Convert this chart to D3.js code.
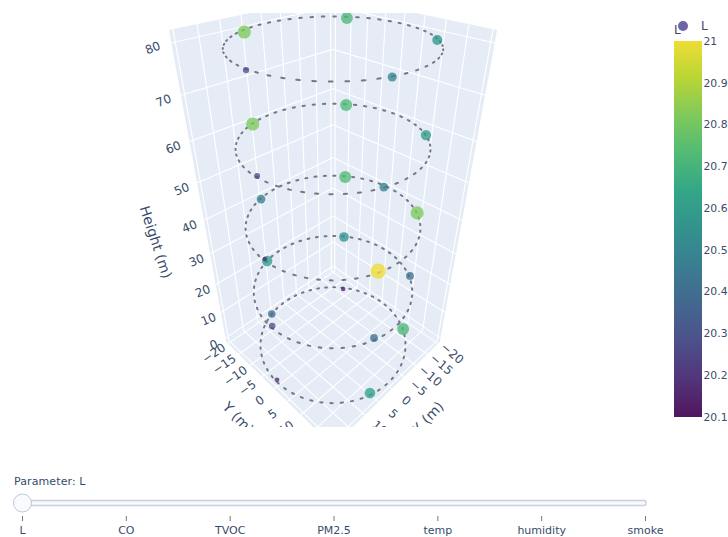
<!DOCTYPE html><html><head><meta charset="utf-8"><script src="https://cdn.jsdelivr.net/npm/d3@7"></script>
<style>html,body{margin:0;padding:0;background:#fff}svg{display:block}text{font-family:"DejaVu Sans",sans-serif;fill:#384c6a}</style></head><body>
<svg id="c" width="728" height="537"></svg>
<script>
// ---- data ----
const sensorX=[7.0,-15.1,-15.0,6.2,20.0, 6.5,-15.6,-15.9,6.0,19.4, -15.9,-15.7,6.2,5.7,19.4, -15.8,-16.2,5.5,19.3,6.0, -15.6,-16.1,5.6,19.3,6.3];
const sensorY=[-17.4,-10.9,12.3,18.9,0.7, -18.4,-11.2,11.7,18.6,-0.1, 11.8,-11.2,-18.5,18.4,0.4, -11.4,11.7,18.4,-0.3,-19.8, -11.2,11.6,18.4,-0.6,-18.7];
const sensorZ=[80,80,80,80,80, 60,60,60,60,60, 40,40,40,40,40, 20,20,20,20,20, 0,0,0,0,0];
const paramL=[20.82,20.72,20.57,20.50,20.28, 20.82,20.73,20.60,20.48,20.25, 20.82,20.74,20.47,21.0,20.60, 20.55,20.40,20.40,20.30,20.15, 20.13,20.72,20.62,20.17,20.38];
const ringHeights=[0,20,40,60,80];
const ringRadius=19.7;
const horizontalTicks=[-20,-15,-10,-5,0,5,10,15,20];
const heightTicks=[0,10,20,30,40,50,60,70,80];
const colorbarTicks=[20.1,20.2,20.3,20.4,20.5,20.6,20.7,20.8,20.9,21];
const sliderSteps=['L','CO','TVOC','PM2.5','temp','humidity','smoke'];
const axisEdge=20.8, floorZ=-1.6, topZ=82.3;

// ---- camera ----
const sinP=.559,cosP=.829,f=486.4,cx=333,cy=200.6,eyeD=89.4,eyeH=105.7;
function project(x,y,z){const u=(x+y)/Math.SQRT2,v=(y-x)/Math.SQRT2,t=eyeH-z,a=eyeD-u,dep=a*cosP+t*sinP,yc=a*sinP-t*cosP;return [cx+f*v/dep,cy-f*yc/dep];}

const svg=d3.select('#c');
const muted=t=>d3.interpolateRgb(d3.interpolateViridis(t),'#999')(.14);
const color=d3.scaleSequential(muted).domain([20.1,21]);
const radius=d3.scaleLinear().domain([20.13,21]).range([2.2,7.7]);
const line=d3.line();
const R=axisEdge;
const poly=p=>line(p.map(q=>project(...q)))+'Z';

svg.append('defs').append('clipPath').attr('id','scene').append('rect').attr('x',0).attr('y',13).attr('width',665).attr('height',414);
const scene=svg.append('g').attr('clip-path','url(#scene)');

const walls=[[[-R,-R,floorZ],[R,-R,floorZ],[R,R,floorZ],[-R,R,floorZ]],[[-R,-R,floorZ],[R,-R,floorZ],[R,-R,topZ],[-R,-R,topZ]],[[-R,-R,floorZ],[-R,R,floorZ],[-R,R,topZ],[-R,-R,topZ]]];
scene.selectAll('path.wall').data(walls).join('path').attr('class','wall').attr('d',poly).attr('fill','#E5ECF6');

const grid=[];
horizontalTicks.forEach(t=>{
  grid.push([[t,-R,floorZ],[t,R,floorZ]],[[-R,t,floorZ],[R,t,floorZ]]);
  grid.push([[t,-R,floorZ],[t,-R,topZ]],[[-R,t,floorZ],[-R,t,topZ]]);
});
heightTicks.forEach(z=>{grid.push([[-R,-R,z],[R,-R,z]],[[-R,-R,z],[-R,R,z]]);});
scene.selectAll('path.grid').data(grid).join('path').attr('class','grid').attr('d',s=>line(s.map(q=>project(...q)))).attr('stroke','#fff').attr('stroke-width',1.1).attr('fill','none');

// dotted rings: dashes laid in world space so they stretch with perspective
const dashCount=50;
ringHeights.forEach(z=>{
  const dashes=d3.range(dashCount).map(i=>{
    const a0=i/dashCount*2*Math.PI,a1=(i+.22)/dashCount*2*Math.PI;
    return [project(ringRadius*Math.cos(a0),ringRadius*Math.sin(a0),z),project(ringRadius*Math.cos(a1),ringRadius*Math.sin(a1),z)];
  });
  scene.append('path').attr('d',dashes.map(d=>line(d)).join('')).attr('stroke','#757789').attr('stroke-width',2).attr('stroke-linecap','round').attr('fill','none');
});

const order=d3.range(sensorX.length);
scene.selectAll('circle.pt').data(order).join('circle').attr('class','pt')
  .attr('cx',i=>project(sensorX[i],sensorY[i],sensorZ[i])[0])
  .attr('cy',i=>project(sensorX[i],sensorY[i],sensorZ[i])[1])
  .attr('r',i=>radius(paramL[i])).attr('fill',i=>color(paramL[i])).attr('fill-opacity',.78);

// tick labels
const fmt=t=>String(t).replace('-','\u2212');
function label(pos,txt,rot,size){const [x,y]=pos;scene.append('text').attr('transform',`translate(${x},${y}) rotate(${rot})`).attr('text-anchor','middle').attr('dominant-baseline','central').attr('font-size',size).text(txt);}
const tickOff=4.6;
horizontalTicks.forEach(t=>{
  label(project(R+tickOff,t,floorZ),fmt(t),-35,12);
  label(project(t,R+tickOff,floorZ),fmt(t),40,12);
});
heightTicks.forEach(z=>{const p=project(R+3,-R-1.2,z);label([p[0],p[1]+3],fmt(z),-22,12);});
label(project(R+11,0,floorZ),'Y (m)',47,14);
label(project(0,R+11,floorZ),'X (m)',-47,14);
label([156,242],'Height (m)',72,14);

// colorbar
const barY=d3.scaleLinear().domain([20.1,21]).range([417,41]);
const stops=d3.range(0,1.0001,.1);
const g=svg.select('defs').append('linearGradient').attr('id','vir').attr('x1',0).attr('y1',1).attr('x2',0).attr('y2',0);
stops.forEach(s=>g.append('stop').attr('offset',s).attr('stop-color',muted(s)));
svg.append('rect').attr('x',674).attr('y',barY(21)).attr('width',28).attr('height',barY(20.1)-barY(21)).attr('fill','url(#vir)');
svg.selectAll('text.cb').data(colorbarTicks).join('text').attr('class','cb').attr('x',703.5).attr('y',v=>barY(v)).attr('dy','.35em').attr('font-size',10.8).text(v=>v);
svg.append('text').attr('x',674).attr('y',34).attr('font-size',12).text('L');
svg.append('circle').attr('cx',683).attr('cy',26).attr('r',5).attr('fill','#7262a6');
svg.append('text').attr('x',701).attr('y',30).attr('font-size',12).text('L');

// slider
const sx=d3.scalePoint().domain(sliderSteps).range([22.5,645.5]);
svg.append('text').attr('x',14).attr('y',485).attr('font-size',11).attr('letter-spacing',.1).text('Parameter: L');
svg.append('rect').attr('x',22).attr('y',500.5).attr('width',624).attr('height',5).attr('rx',2).attr('fill','#f8fafc').attr('stroke','#c8d0de').attr('stroke-width',1.4);
svg.selectAll('line.st').data(sliderSteps).join('line').attr('class','st').attr('x1',sx).attr('x2',sx).attr('y1',516).attr('y2',521).attr('stroke','#777');
svg.selectAll('text.st').data(sliderSteps).join('text').attr('class','st').attr('x',sx).attr('y',534).attr('text-anchor','middle').attr('font-size',11).text(d=>d);
svg.append('circle').attr('cx',sx('L')).attr('cy',503).attr('r',9).attr('fill','#f8fafc').attr('stroke','#bec8d9');
</script></body></html>
